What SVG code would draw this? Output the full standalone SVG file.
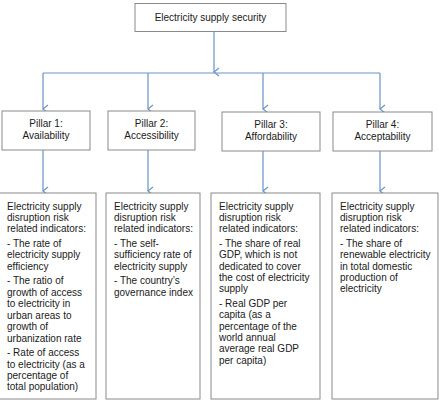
<svg xmlns="http://www.w3.org/2000/svg" width="439" height="402" viewBox="0 0 439 402">
<defs>
<style>
.box{fill:#fff;stroke:#8a8a8a;stroke-width:1}
.t{font-family:"Liberation Sans",Arial,sans-serif;font-size:10px;fill:#1a1a1a}
.c{text-anchor:middle}
.ln{stroke:#6b93c6;stroke-width:1.2;fill:none}
</style>
<marker id="ah" viewBox="0 0 10 10" refX="5" refY="9" markerWidth="10" markerHeight="10" markerUnits="userSpaceOnUse" orient="auto-start-reverse">
<path d="M1,4 L5,9 L9,4" fill="none" stroke="#6b93c6" stroke-width="1.2"/>
</marker>
</defs>
<rect width="439" height="402" fill="#fff"/>
<g id="connectors">
<line class="ln" x1="214" y1="32" x2="214" y2="72" marker-end="url(#ah)"/>
<line class="ln" x1="43" y1="73" x2="380" y2="73"/>
<line class="ln" x1="43" y1="73" x2="43" y2="109" marker-end="url(#ah)"/>
<line class="ln" x1="148" y1="73" x2="148" y2="109" marker-end="url(#ah)"/>
<line class="ln" x1="263" y1="73" x2="263" y2="109" marker-end="url(#ah)"/>
<line class="ln" x1="380" y1="73" x2="380" y2="109" marker-end="url(#ah)"/>
<line class="ln" x1="43" y1="150" x2="43" y2="191" marker-end="url(#ah)"/>
<line class="ln" x1="148" y1="150" x2="148" y2="191" marker-end="url(#ah)"/>
<line class="ln" x1="263" y1="151" x2="263" y2="191" marker-end="url(#ah)"/>
<line class="ln" x1="380" y1="151" x2="380" y2="191" marker-end="url(#ah)"/>
</g>
<g id="root">
<rect class="box" x="135" y="3.5" width="151" height="28"/>
<text class="t c" x="210.5" y="21">Electricity supply security</text>
</g>
<g id="pillar1">
<rect class="box" x="2" y="111" width="88" height="39"/>
<text class="t c" x="46" y="127">Pillar 1:</text>
<text class="t c" x="46" y="139">Availability</text>
</g>
<g id="pillar2">
<rect class="box" x="108" y="111" width="87" height="39"/>
<text class="t c" x="151.5" y="127">Pillar 2:</text>
<text class="t c" x="151.5" y="139">Accessibility</text>
</g>
<g id="pillar3">
<rect class="box" x="222" y="112" width="98" height="39"/>
<text class="t c" x="271" y="128">Pillar 3:</text>
<text class="t c" x="271" y="140">Affordability</text>
</g>
<g id="pillar4">
<rect class="box" x="333" y="112" width="99" height="39"/>
<text class="t c" x="382.5" y="128">Pillar 4:</text>
<text class="t c" x="382.5" y="140">Acceptability</text>
</g>
<g id="ind1">
<rect class="box" x="-1" y="193" width="97" height="206"/>
<text class="t" x="7" y="209.5">Electricity supply</text>
<text class="t" x="7" y="221">disruption risk</text>
<text class="t" x="7" y="232.3">related indicators:</text>
<text class="t" x="7" y="247">- The rate of</text>
<text class="t" x="7" y="258.4">electricity supply</text>
<text class="t" x="7" y="269.7">efficiency</text>
<text class="t" x="7" y="284.4">- The ratio of</text>
<text class="t" x="7" y="295.7">growth of access</text>
<text class="t" x="7" y="307">to electricity in</text>
<text class="t" x="7" y="318.7">urban areas to</text>
<text class="t" x="7" y="330.2">growth of</text>
<text class="t" x="7" y="341.6">urbanization rate</text>
<text class="t" x="7" y="356.3">- Rate of access</text>
<text class="t" x="7" y="367.7">to electricity (as a</text>
<text class="t" x="7" y="379">percentage of</text>
<text class="t" x="7" y="390.4">total population)</text>
</g>
<g id="ind2">
<rect class="box" x="106" y="193" width="94" height="206"/>
<text class="t" x="114" y="209.5">Electricity supply</text>
<text class="t" x="114" y="221">disruption risk</text>
<text class="t" x="114" y="232.3">related indicators:</text>
<text class="t" x="114" y="247">- The self-</text>
<text class="t" x="114" y="258.4">sufficiency rate of</text>
<text class="t" x="114" y="269.7">electricity supply</text>
<text class="t" x="114" y="284.4">- The country’s</text>
<text class="t" x="114" y="295.7">governance index</text>
</g>
<g id="ind3">
<rect class="box" x="211" y="193" width="109" height="206"/>
<text class="t" x="219" y="209.5">Electricity supply</text>
<text class="t" x="219" y="221">disruption risk</text>
<text class="t" x="219" y="232.3">related indicators:</text>
<text class="t" x="219" y="247">- The share of real</text>
<text class="t" x="219" y="258.4">GDP, which is not</text>
<text class="t" x="219" y="269.7">dedicated to cover</text>
<text class="t" x="219" y="281">the cost of electricity</text>
<text class="t" x="219" y="292.4">supply</text>
<text class="t" x="219" y="307">- Real GDP per</text>
<text class="t" x="219" y="318.4">capita (as a</text>
<text class="t" x="219" y="329.7">percentage of the</text>
<text class="t" x="219" y="341">world annual</text>
<text class="t" x="219" y="352.4">average real GDP</text>
<text class="t" x="219" y="363.7">per capita)</text>
</g>
<g id="ind4">
<rect class="box" x="332" y="193" width="106" height="206"/>
<text class="t" x="340" y="209.5">Electricity supply</text>
<text class="t" x="340" y="221">disruption risk</text>
<text class="t" x="340" y="232.3">related indicators:</text>
<text class="t" x="340" y="247">- The share of</text>
<text class="t" x="340" y="258.4">renewable electricity</text>
<text class="t" x="340" y="269.7">in total domestic</text>
<text class="t" x="340" y="281">production of</text>
<text class="t" x="340" y="292.4">electricity</text>
</g>
</svg>
